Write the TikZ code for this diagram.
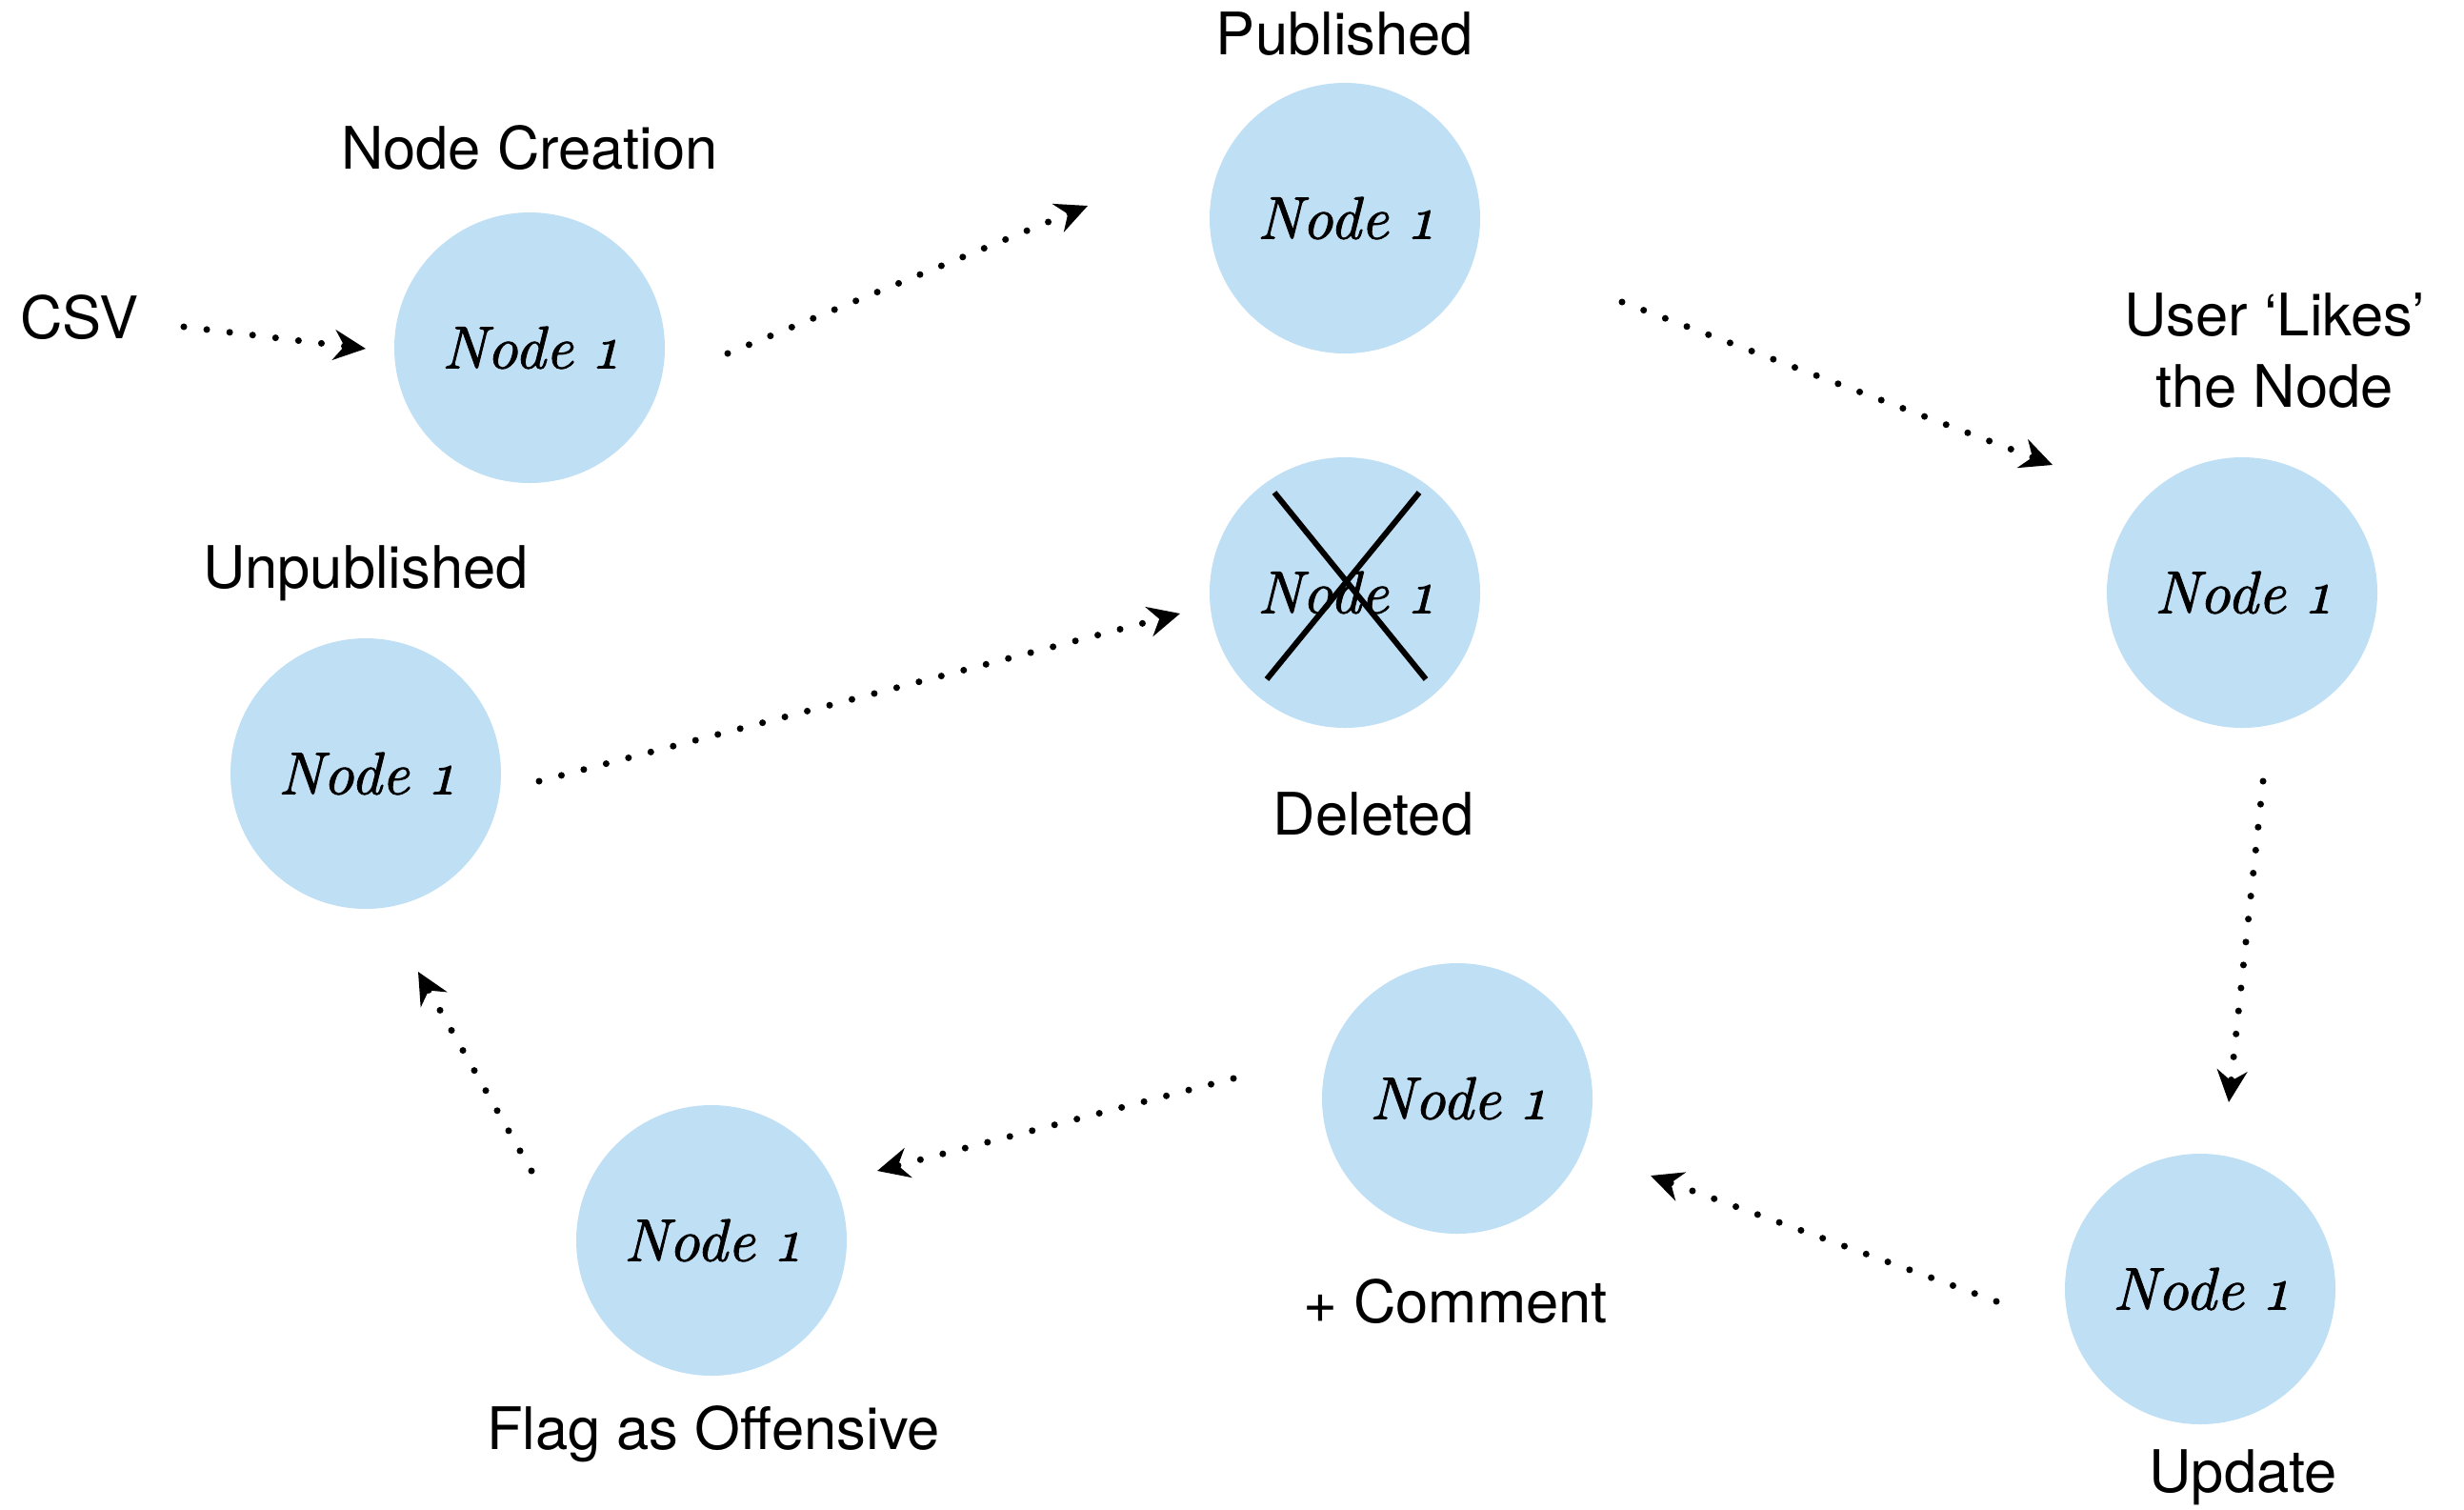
\documentclass[tikz,border=0pt]{standalone}
\usepackage{fontspec}
\setmainfont{TeX Gyre Heros}
\newfontfamily\nodefont{lmroman10-italic.otf}[Numbers=OldStyle, FakeBold=1.3]
\usepackage{tikz}
\usetikzlibrary{arrows.meta}
\definecolor{stateblue}{RGB}{191,223,245}

\begin{document}
\begin{tikzpicture}[
  every node/.style={font=\fontsize{17.5}{21.6}\selectfont},
  statenode/.style={circle, fill=stateblue, minimum size=2.84cm, inner sep=0pt,
                    font=\fontsize{18}{21}\selectfont\nodefont},
  lbl/.style={inner sep=0pt, align=center},
  flow/.style={line width=2pt, line cap=round, dash pattern=on 0pt off 6.9pt,
               -{Stealth[length=9.5pt, width=9pt]}},
]
\useasboundingbox (0,0) rectangle (25.87,-15.84);

%% States of the node (centres in cm, y going down)
\node[statenode] (create) at (5.56,-3.65)   {Node 1};
\node[statenode] (pub)    at (14.12,-2.29)  {Node 1};
\node[statenode] (del)    at (14.12,-6.22)  {Node 1};
\node[statenode] (like)   at (23.54,-6.22)  {Node 1};
\node[statenode] (unpub)  at (3.84,-8.12)   {Node 1};
\node[statenode] (upd)    at (23.10,-13.53) {Node 1};
\node[statenode] (cmt)    at (15.30,-11.53) {Node 1};
\node[statenode] (flag)   at (7.47,-13.02)  {Node 1};

%% Deleted node is crossed out
\draw[line width=1.7pt] ([shift={(-0.74,1.05)}]del.center) -- ([shift={(0.85,-0.91)}]del.center);
\draw[line width=1.7pt] ([shift={(0.78,1.05)}]del.center) -- ([shift={(-0.82,-0.91)}]del.center);

%% Labels
\node[lbl] (csv)     at (0.83,-3.33)  {CSV};
\node[lbl] (lcreate) at (5.56,-1.55)  {Node Creation};
\node[lbl] (lpub)    at (14.12,-0.36) {Published};
\node[lbl] (llike)   at (23.88,-3.68) {User `Likes'\\the Node};
\node[lbl] (lunpub)  at (3.84,-6.02)  {Unpublished};
\node[lbl] (ldel)    at (14.42,-8.55) {Deleted};
\node[lbl] (lcmt)    at (15.28,-13.66) {+ Comment};
\node[lbl] (lflag)   at (7.49,-15.05) {Flag as Offensive};
\node[lbl] (lupd)    at (23.55,-15.51) {Update};

%% Transitions
\draw[flow] ([shift={(1.10,-0.10)}]csv.center)   -- ([shift={(-1.72,-0.01)}]create.center);
\draw[flow] ([shift={(2.08,-0.06)}]create.center) -- ([shift={(-2.70,0.13)}]pub.center);
\draw[flow] ([shift={(2.91,-0.88)}]pub.center)    -- ([shift={(-1.99,1.34)}]like.center);
\draw[flow] ([shift={(0.22,-1.98)}]like.center)   -- ([shift={(0.30,1.96)}]upd.center);
\draw[flow] ([shift={(-2.14,-0.13)}]upd.center)   -- ([shift={(2.03,-0.81)}]cmt.center);
\draw[flow] ([shift={(-2.35,0.21)}]cmt.center)    -- ([shift={(1.74,0.73)}]flag.center);
\draw[flow] ([shift={(-1.89,0.73)}]flag.center)   -- ([shift={(0.55,-2.08)}]unpub.center);
\draw[flow] ([shift={(1.82,-0.08)}]unpub.center)  -- ([shift={(-1.73,-0.22)}]del.center);

\end{tikzpicture}
\end{document}
